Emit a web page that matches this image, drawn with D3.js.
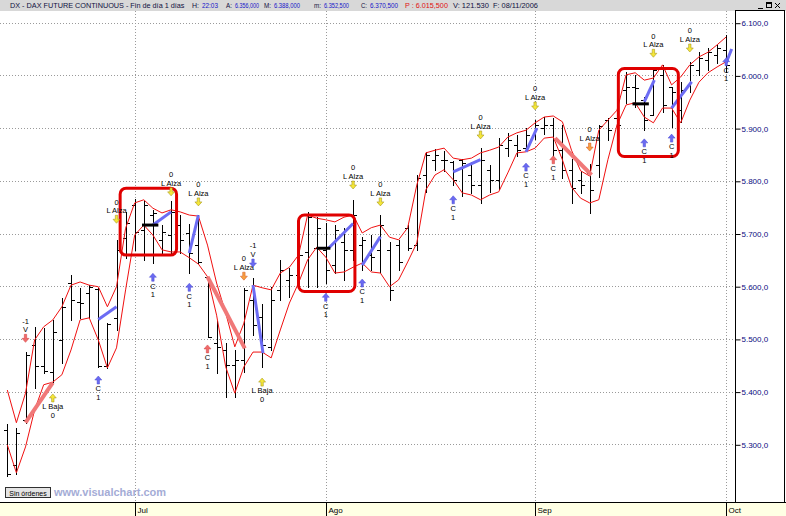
<!DOCTYPE html>
<html><head><meta charset="utf-8">
<script src="https://cdn.jsdelivr.net/npm/d3@7"></script>
<style>body{margin:0;background:#fff;} svg{display:block;font-family:"Liberation Sans",Arial,sans-serif;}</style>
</head><body><svg id="c" width="786" height="516"></svg>
<script>
const dates = [
"2006-06-13","2006-06-14","2006-06-15","2006-06-16","2006-06-19","2006-06-20","2006-06-21","2006-06-22","2006-06-23","2006-06-26","2006-06-27","2006-06-28","2006-06-29","2006-06-30",
"2006-07-03","2006-07-04","2006-07-05","2006-07-06","2006-07-07","2006-07-10","2006-07-11","2006-07-12","2006-07-13","2006-07-14","2006-07-17","2006-07-18","2006-07-19","2006-07-20","2006-07-21","2006-07-24","2006-07-25","2006-07-26","2006-07-27","2006-07-28","2006-07-31",
"2006-08-01","2006-08-02","2006-08-03","2006-08-04","2006-08-07","2006-08-08","2006-08-09","2006-08-10","2006-08-11","2006-08-14","2006-08-15","2006-08-16","2006-08-17","2006-08-18","2006-08-21","2006-08-22","2006-08-23","2006-08-24","2006-08-25","2006-08-28","2006-08-29","2006-08-30","2006-08-31",
"2006-09-01","2006-09-04","2006-09-05","2006-09-06","2006-09-07","2006-09-08","2006-09-11","2006-09-12","2006-09-13","2006-09-14","2006-09-15","2006-09-18","2006-09-19","2006-09-20","2006-09-21","2006-09-22","2006-09-25","2006-09-26","2006-09-27","2006-09-28","2006-09-29",
"2006-10-02"];
const opens = [5327,5261,5346,5489,5449,5437,5498,5606,5570,5587,5595,5449,5540,5692,5754,5707,5735,5688,5697,5716,5701,5678,5618,5492,5479,5451,5460,5574,5542,5485,5593,5612,5621,5665,5673,5669,5640,5684,5669,5678,5659,5669,5669,5678,5711,5678,5811,5840,5840,5836,5840,5811,5792,5821,5802,5862,5868,5862,5887,5900,5906,5859,5821,5802,5815,5830,5915,5919,5972,5978,5953,5925,6001,5978,5934,5982,6010,6029,6039,6048];
const highs = [5339,5331,5475,5523,5521,5536,5578,5621,5597,5602,5597,5530,5688,5741,5766,5762,5745,5716,5762,5735,5718,5735,5618,5534,5492,5479,5597,5616,5566,5599,5650,5635,5678,5741,5731,5720,5716,5711,5764,5693,5697,5735,5684,5688,5716,5811,5855,5860,5857,5838,5841,5836,5862,5830,5881,5891,5887,5900,5915,5921,5919,5906,5841,5819,5832,5906,5919,5921,6007,6001,5959,6010,6020,5978,5988,6026,6044,6052,6058,6077];
const lows = [5240,5244,5341,5407,5435,5418,5454,5536,5540,5540,5447,5445,5517,5654,5669,5650,5644,5663,5663,5663,5625,5644,5504,5435,5390,5390,5437,5507,5447,5479,5574,5580,5612,5599,5599,5606,5625,5612,5650,5631,5631,5627,5574,5631,5669,5669,5779,5821,5819,5792,5771,5777,5758,5779,5785,5847,5847,5857,5879,5889,5843,5805,5758,5777,5739,5807,5877,5896,5948,5940,5896,5925,5931,5902,5912,5969,6001,6010,6024,6007];
const closes = [5244,5322,5470,5449,5439,5513,5561,5574,5568,5599,5449,5528,5669,5720,5703,5754,5739,5703,5741,5688,5663,5646,5504,5485,5451,5460,5593,5526,5489,5574,5631,5621,5659,5731,5711,5631,5707,5669,5735,5688,5655,5716,5593,5646,5673,5805,5849,5849,5840,5802,5834,5792,5840,5802,5868,5877,5859,5887,5906,5906,5859,5821,5786,5792,5783,5904,5896,5906,5978,5976,5915,6010,5944,5969,5972,6020,6033,6044,6052,6020];
const upperBand = [5403,5341,5397,5498,5523,5536,5561,5602,5608,5602,5599,5561,5599,5710,5758,5764,5748,5739,5745,5741,5735,5733,5678,5606,5549,5485,5530,5602,5597,5593,5625,5636,5659,5735,5729,5726,5722,5731,5735,5701,5711,5716,5693,5688,5711,5792,5853,5858,5862,5843,5840,5843,5853,5858,5864,5883,5891,5896,5910,5921,5923,5912,5858,5819,5809,5896,5915,5934,6001,6005,5991,5995,6020,5982,5997,6020,6035,6044,6058,6073];
const lowerBand = [5299,5246,5295,5365,5413,5418,5432,5479,5536,5540,5498,5445,5483,5593,5697,5716,5697,5669,5665,5665,5654,5642,5618,5545,5447,5397,5447,5475,5475,5464,5517,5568,5606,5650,5674,5655,5625,5627,5636,5644,5627,5625,5599,5612,5646,5682,5783,5811,5821,5802,5777,5773,5764,5773,5779,5815,5853,5855,5862,5881,5883,5840,5788,5767,5758,5764,5840,5906,5944,5948,5921,5910,5938,5938,5910,5953,5987,6005,6016,6026];
// trend segments: [index1, price1, index2, price2]
const blueSegments = [[10,5537,12,5561],[16,5716,18,5741],[20,5663,21,5735],[27,5602,28.1,5473],[35.3,5672,38,5719],[39,5640,41,5694],[49,5817,52,5840],[57,5855,58.2,5900],[70,5950,71.1,5991],[73,5938,75.2,5988],[79,6024,79.6,6050]];
const redSegments = [[2,5341,5,5417],[22,5618,26.1,5482],[60.2,5881,64.2,5811]];
// black levels: [index1, index2, price]
const blackLevels = [[14.8,16.6,5716],[34.0,35.5,5672],[68.7,70.5,5946]];
// highlight boxes: [index1, index2, priceTop, priceBottom]
const boxes = [[12.4,18.6,5786,5659],[32.0,38.2,5735,5590],[67.15,73.74,6013,5846]];
const signals = [
 {i:2,p:5501,dir:"down",kind:"red",lines:["-1","V"]},
 {i:5,p:5388,dir:"up",kind:"yellow",lines:["L Baja","0"]},
 {i:10,p:5422,dir:"up",kind:"blue",lines:["C","1"]},
 {i:12,p:5727,dir:"down",kind:"yellow",lines:["0","L Alza"]},
 {i:16,p:5617,dir:"up",kind:"blue",lines:["C","1"]},
 {i:18,p:5779,dir:"down",kind:"yellow",lines:["0","L Alza"]},
 {i:20,p:5598,dir:"up",kind:"blue",lines:["C","1"]},
 {i:21,p:5760,dir:"down",kind:"yellow",lines:["0","L Alza"]},
 {i:22,p:5481,dir:"up",kind:"red",lines:["C","1"]},
 {i:26,p:5619,dir:"down",kind:"orange",lines:["0","L Alza"]},
 {i:27,p:5644,dir:"down",kind:"blue",lines:["-1","V"]},
 {i:28,p:5418,dir:"up",kind:"yellow",lines:["L Baja","0"]},
 {i:35,p:5579,dir:"up",kind:"blue",lines:["C","1"]},
 {i:38,p:5792,dir:"down",kind:"yellow",lines:["0","L Alza"]},
 {i:39,p:5606,dir:"up",kind:"blue",lines:["C","1"]},
 {i:41,p:5760,dir:"down",kind:"yellow",lines:["0","L Alza"]},
 {i:49,p:5764,dir:"up",kind:"blue",lines:["C","1"]},
 {i:52,p:5887,dir:"down",kind:"yellow",lines:["0","L Alza"]},
 {i:57,p:5826,dir:"up",kind:"blue",lines:["C","1"]},
 {i:58,p:5942,dir:"down",kind:"yellow",lines:["0","L Alza"]},
 {i:60,p:5840,dir:"up",kind:"red",lines:["C","1"]},
 {i:64,p:5864,dir:"down",kind:"orange",lines:["0","L Alza"]},
 {i:70,p:5872,dir:"up",kind:"blue",lines:["C","1"]},
 {i:71,p:6042,dir:"down",kind:"yellow",lines:["0","L Alza"]},
 {i:73,p:5881,dir:"up",kind:"blue",lines:["C","1"]},
 {i:75,p:6052,dir:"down",kind:"yellow",lines:["0","L Alza"]},
 {i:79,p:6026,dir:"up",kind:"blue",lines:["C","1"]}
];
const yTicks = [5300,5400,5500,5600,5700,5800,5900,6000,6100];
const monthStarts = ["2006-07-03","2006-08-01","2006-09-01","2006-10-02"];
const monthLabels = ["Jul","Ago","Sep","Oct"];
const headerParts = [
 {t:"DX - DAX FUTURE CONTINUOUS - Fin de día 1 días",x:10,w:175,c:"#101040"},
 {t:"H:",x:192,w:7,c:"#101040"},{t:"22:03",x:202,w:16,c:"#1515c8"},
 {t:"A:",x:226,w:6,c:"#101040"},{t:"6.356,000",x:235,w:24,c:"#1515c8"},
 {t:"M:",x:264,w:7,c:"#101040"},{t:"6.388,000",x:274,w:26,c:"#1515c8"},
 {t:"m:",x:314,w:7,c:"#101040"},{t:"6.352,500",x:324,w:25,c:"#1515c8"},
 {t:"C:",x:361,w:6,c:"#101040"},{t:"6.370,500",x:370,w:28,c:"#1515c8"},
 {t:"P : 6.015,500",x:405,w:43,c:"#e01010"},
 {t:"V: 121.530",x:453,w:36,c:"#101040"},
 {t:"F: 08/11/2006",x:493,w:45,c:"#101040"}
];

const W=786,H=516, plotR=735, plotT=11, plotB=502;
const svg=d3.select("#c");
svg.append("rect").attr("width",W).attr("height",H).attr("fill","#fff");

const x=d3.scaleLinear().domain([0,dates.length-1]).range([7.3,726.2]);
const y=d3.scaleLinear().domain([5300,6100]).range([444.3,22.7]);
const cr=v=>Math.round(v)+0.5;

svg.append("defs").append("clipPath").attr("id","plot").append("rect")
  .attr("x",0).attr("y",plotT).attr("width",plotR).attr("height",plotB-plotT);

// grid
const grid=svg.append("g").attr("stroke","#9a9a9a").attr("stroke-dasharray","1,2");
grid.selectAll("line.h").data(yTicks).join("line").attr("class","h")
  .attr("x1",0).attr("x2",plotR).attr("y1",d=>cr(y(d))).attr("y2",d=>cr(y(d)));
const monthIdx=monthStarts.map(d=>dates.indexOf(d));
grid.selectAll("line.v").data(monthIdx).join("line").attr("class","v")
  .attr("x1",d=>cr(x(d))).attr("x2",d=>cr(x(d))).attr("y1",plotT).attr("y2",plotB);

const plot=svg.append("g").attr("clip-path","url(#plot)");

// OHLC bars
const bars=plot.append("g").attr("stroke","#000").attr("stroke-width",1);
dates.forEach((d,i)=>{
  const xi=cr(x(i));
  bars.append("line").attr("x1",xi).attr("x2",xi).attr("y1",Math.round(y(highs[i]))).attr("y2",Math.round(y(lows[i]))+1);
  bars.append("line").attr("x1",xi-3.5).attr("x2",xi).attr("y1",cr(y(opens[i]))).attr("y2",cr(y(opens[i])));
  bars.append("line").attr("x1",xi).attr("x2",xi+3.5).attr("y1",cr(y(closes[i]))).attr("y2",cr(y(closes[i])));
});

// bands
const line=d3.line().x((d,i)=>x(i)).y(d=>y(d));
plot.append("path").datum(upperBand).attr("d",line).attr("fill","none").attr("stroke","#f01010").attr("stroke-width",1);
plot.append("path").datum(lowerBand).attr("d",line).attr("fill","none").attr("stroke","#f01010").attr("stroke-width",1);

// thick trend segments
plot.selectAll("line.red").data(redSegments).join("line").attr("class","red")
  .attr("x1",d=>x(d[0])).attr("y1",d=>y(d[1])).attr("x2",d=>x(d[2])).attr("y2",d=>y(d[3]))
  .attr("stroke","#f07878").attr("stroke-width",4);
plot.selectAll("line.blue").data(blueSegments).join("line").attr("class","blue")
  .attr("x1",d=>x(d[0])).attr("y1",d=>y(d[1])).attr("x2",d=>x(d[2])).attr("y2",d=>y(d[3]))
  .attr("stroke","#6c6cf4").attr("stroke-width",3);
plot.selectAll("line.blk").data(blackLevels).join("line").attr("class","blk")
  .attr("x1",d=>x(d[0])).attr("x2",d=>x(d[1])).attr("y1",d=>y(d[2])).attr("y2",d=>y(d[2]))
  .attr("stroke","#000").attr("stroke-width",3);

// boxes
plot.selectAll("rect.box").data(boxes).join("rect").attr("class","box")
  .attr("x",d=>x(d[0])).attr("y",d=>y(d[2])).attr("width",d=>x(d[1])-x(d[0])).attr("height",d=>y(d[3])-y(d[2]))
  .attr("rx",6).attr("fill","none").attr("stroke","#e00000").attr("stroke-width",3);

// signals
const colors={blue:["#6a6af2","#4a4ad0"],red:["#f06a6a","#d04040"],yellow:["#f4e63a","#9a8a10"],orange:["#f8a040","#d05020"]};
const sg=plot.append("g");
signals.forEach(s=>{
  const cx=x(s.i), cy=y(s.p), c=colors[s.kind];
  let p;
  if(s.dir==="up") p=`M${cx},${cy-4}L${cx+3.5},${cy}L${cx+1.2},${cy}L${cx+1.2},${cy+4}L${cx-1.2},${cy+4}L${cx-1.2},${cy}L${cx-3.5},${cy}Z`;
  else p=`M${cx},${cy+4}L${cx+3.5},${cy}L${cx+1.2},${cy}L${cx+1.2},${cy-4}L${cx-1.2},${cy-4}L${cx-1.2},${cy}L${cx-3.5},${cy}Z`;
  sg.append("path").attr("d",p).attr("fill",c[0]).attr("stroke",c[1]).attr("stroke-width",0.5);
  s.lines.forEach((t,k)=>{
    const ty = s.dir==="up" ? cy+8.5+k*8.5 : cy-17.5+k*8.5;
    sg.append("text").attr("x",cx).attr("y",ty+2.8).attr("text-anchor","middle")
      .attr("font-size","7.5px").attr("fill","#000").text(t);
  });
});

// header
svg.append("rect").attr("x",0).attr("y",0).attr("width",W).attr("height",plotT).attr("fill","#d8d8d8");
const hg=svg.append("g").attr("font-size","7.5px");
headerParts.forEach(h=>{
  const t=hg.append("text").attr("x",0).attr("y",0).attr("fill",h.c).text(h.t);
  const len=t.node().getComputedTextLength()||h.w;
  t.attr("transform",`translate(${h.x},8) scale(${(h.w/len).toFixed(4)},1)`);
});
// window buttons
const wb=svg.append("g").attr("stroke","#000").attr("fill","none");
wb.append("line").attr("x1",758).attr("x2",763).attr("y1",8.5).attr("y2",8.5);
wb.append("rect").attr("x",766.5).attr("y",2.5).attr("width",5).attr("height",5);
wb.append("line").attr("x1",766.5).attr("x2",771.5).attr("y1",3.5).attr("y2",3.5);
wb.append("line").attr("x1",775).attr("x2",780).attr("y1",3).attr("y2",8);
wb.append("line").attr("x1",780).attr("x2",775).attr("y1",3).attr("y2",8);

// right axis panel
svg.append("rect").attr("x",plotR+0.5).attr("y",plotT-0.5).attr("width",W-plotR-2).attr("height",plotB-plotT+1)
  .attr("fill","none").attr("stroke","#000");
const loc=d3.formatLocale({decimal:",",thousands:".",grouping:[3],currency:["",""]});
const fmt=loc.format(",.1f");
const ax=svg.append("g").attr("transform",`translate(${plotR+0.5},0.5)`)
  .call(d3.axisRight(y).tickValues(yTicks).tickSize(5).tickPadding(1).tickFormat(fmt));
ax.select(".domain").remove();
ax.selectAll(".tick line").attr("stroke","#000");
ax.selectAll(".tick text").attr("fill","#0a0a80").attr("font-size","8px").attr("font-family","Liberation Sans, Arial, sans-serif");

// bottom date strip
svg.append("rect").attr("x",0).attr("y",plotB+1).attr("width",W).attr("height",H-plotB-1).attr("fill","#ffffe4");
svg.append("line").attr("x1",0).attr("x2",W).attr("y1",plotB+0.5).attr("y2",plotB+0.5).attr("stroke","#000");
const mt=svg.append("g");
monthIdx.forEach((mi,k)=>{
  const xm=cr(x(mi));
  mt.append("line").attr("x1",xm).attr("x2",xm).attr("y1",plotB).attr("y2",H).attr("stroke","#000");
  mt.append("text").attr("x",xm+2).attr("y",513).attr("font-size","8px").attr("fill","#000").text(monthLabels[k]);
});

// footer button and watermark
svg.append("rect").attr("x",5.5).attr("y",487.5).attr("width",45).attr("height",10).attr("fill","#e4e4e4").attr("stroke","#303030");
svg.append("text").attr("x",28).attr("y",495.5).attr("text-anchor","middle").attr("font-size","7px").attr("fill","#000").text("Sin órdenes");
svg.append("text").attr("x",54).attr("y",496).attr("font-size","11px").attr("font-weight","bold").attr("fill","#a4acd6").text("www.visualchart.com");
</script></body></html>
